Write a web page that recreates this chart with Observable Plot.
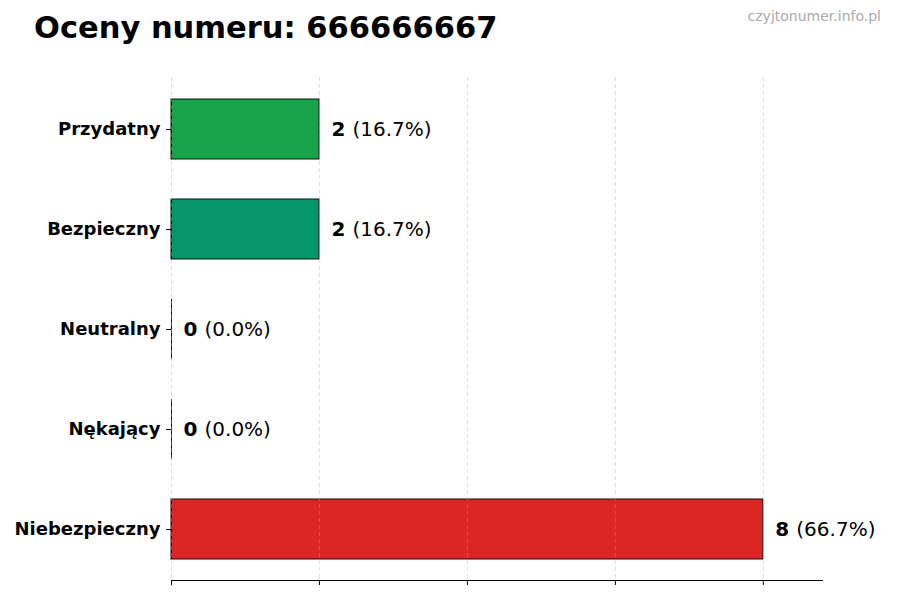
<!DOCTYPE html>
<html><head><meta charset="utf-8">
<script src="https://cdn.jsdelivr.net/npm/d3@7"></script>
<script src="https://cdn.jsdelivr.net/npm/@observablehq/plot@0.6"></script>
<style>
body{margin:0;background:#fff;font-family:"DejaVu Sans",sans-serif;}
#wrap{position:relative;width:900px;height:600px;}
#title{position:absolute;left:34px;top:10px;font-size:30.5px;font-weight:bold;color:#000;white-space:nowrap;line-height:1.2;}
#mark{position:absolute;right:19px;top:8px;font-size:14px;color:#aaa;line-height:1.2;}
</style></head>
<body>
<div id="wrap"><div id="chart"></div>
<div id="title">Oceny numeru: 666666667</div>
<div id="mark">czyjtonumer.info.pl</div></div>
<script>
const categories = ["Przydatny", "Bezpieczny", "Neutralny", "Nękający", "Niebezpieczny"];
const counts = [2, 2, 0, 0, 8];
const colors = ["#16a34a", "#059669", "#9ca3af", "#f97316", "#dc2626"];
const xTicks = [0, 2, 4, 6, 8];

const total = d3.sum(counts);
const data = categories.map((c, i) => ({cat: c, n: counts[i], color: colors[i], pct: "(" + (counts[i] / total * 100).toFixed(1) + "%)"}));

const chart = Plot.plot({
  width: 900, height: 600,
  marginLeft: 171, marginRight: 78, marginTop: 77, marginBottom: 20,
  style: {fontFamily: "DejaVu Sans, sans-serif", background: "#fff"},
  x: {domain: [0, 8.8], ticks: xTicks, tickFormat: () => "", tickSize: 5, label: null},
  y: {domain: categories, paddingInner: 0.4, paddingOuter: 0.2, align: 0.5, label: null, tickSize: 5, tickPadding: 6},
  marks: [
    Plot.barX(data, {y: "cat", x1: 0, x2: "n", fill: "color", stroke: "#111", strokeWidth: 1}),
    Plot.tickX(data, {y: "cat", x: 0, stroke: "#111", strokeWidth: 1}),
    Plot.gridX(xTicks, {stroke: "#aaa", strokeOpacity: 0.4, strokeDasharray: "4,3"}),
    Plot.frame({anchor: "bottom", stroke: "#000"}),
    Plot.text(data, {y: "cat", x: "n", text: d => String(d.n), dx: 12, textAnchor: "start", fontWeight: "bold", fontSize: 20, fill: "#000"}),
    Plot.text(data, {y: "cat", x: "n", text: "pct", dx: 33, textAnchor: "start", fontSize: 20, fill: "#000"})
  ]
});
chart.querySelectorAll('[aria-label="y-axis tick label"] text').forEach(t => {
  t.setAttribute("font-weight", "bold"); t.style.fontSize = "18px"; t.style.fill = "#000";
});
const yl = chart.querySelector('[aria-label="y-axis tick label"]');
if (yl) { yl.setAttribute("font-size", "18"); yl.setAttribute("font-weight", "bold"); }
document.getElementById("chart").appendChild(chart);
</script>
</body></html>
